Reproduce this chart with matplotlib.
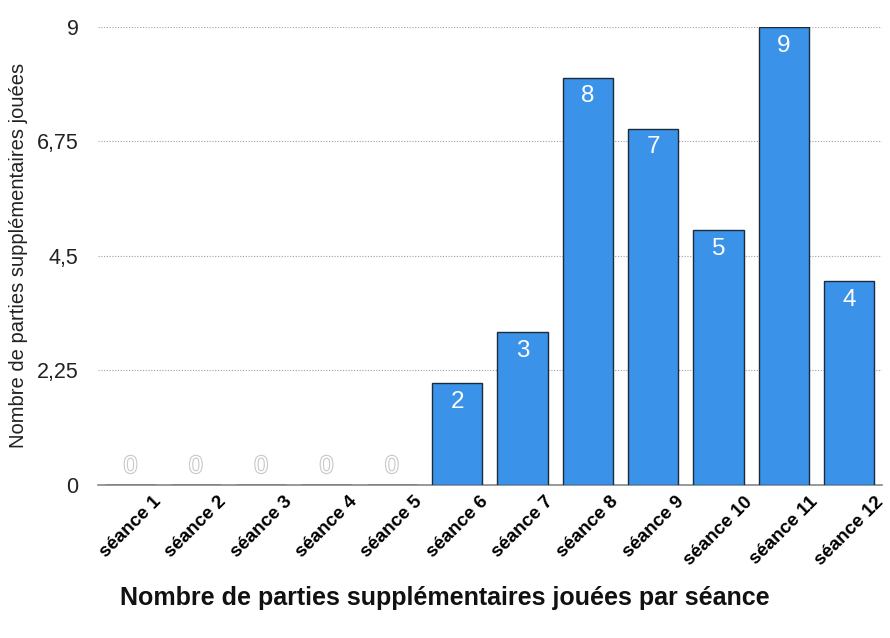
import matplotlib
matplotlib.use("Agg")
import matplotlib.pyplot as plt
import matplotlib.patheffects as pe
import matplotlib.transforms as mtrans

plt.rcParams['font.family'] = ['Liberation Sans', 'DejaVu Sans']

categories = ["séance 1", "séance 2", "séance 3", "séance 4", "séance 5", "séance 6",
              "séance 7", "séance 8", "séance 9", "séance 10", "séance 11", "séance 12"]
values = [0, 0, 0, 0, 0, 2, 3, 8, 7, 5, 9, 4]
yticks = [0, 2.25, 4.5, 6.75, 9]
ytick_labels = ["0", "2,25", "4,5", "6,75", "9"]

fig = plt.figure(figsize=(8.9, 6.38), dpi=100)
ax = fig.add_axes([0.110, 0.240, 0.881, 0.718])

x = list(range(len(categories)))
ax.bar(x, values, width=0.77, color="#3a93e8", edgecolor="#1c2a3c", linewidth=1.0, zorder=3)

ax.set_xlim(-0.5, len(categories) - 0.5)
ax.set_ylim(0, 9)
ax.set_yticks(yticks)
ax.set_yticklabels(ytick_labels, fontsize=15.5, color="#222222")
ax.set_xticks(x)
ax.set_xticklabels(categories, rotation=45, ha="center", fontsize=13.5, fontweight="bold")
ax.tick_params(axis="both", length=0)
ax.tick_params(axis="y", pad=14)
ax.tick_params(axis="x", pad=6)

for y in yticks[1:]:
    ax.axhline(y, color="#a0a0a0", linestyle=(0, (1, 1.5)), linewidth=0.8, zorder=1)

for s in ["top", "right", "left"]:
    ax.spines[s].set_visible(False)
ax.spines["bottom"].set_color("#888888")
ax.spines["bottom"].set_linewidth(1.2)

for xi, v in zip(x, values):
    if v == 0:
        off = mtrans.offset_copy(ax.transData, fig=fig, x=0, y=13, units="points")
        ax.text(xi, v, str(v), transform=off, ha="center", va="center", fontsize=17.5,
                color="white", zorder=4,
                path_effects=[pe.withStroke(linewidth=1.6, foreground="#c8c8c8")])
    else:
        off = mtrans.offset_copy(ax.transData, fig=fig, x=0, y=-13.5, units="points")
        ax.text(xi, v, str(v), transform=off, ha="center", va="center", fontsize=17.5,
                color="white", zorder=4)

fig.text(0.021, 0.60, "Nombre de parties supplémentaires jouées", rotation=90,
         ha="center", va="center", fontsize=14.5, color="#222222")
fig.text(0.5, 0.062, "Nombre de parties supplémentaires jouées par séance",
         ha="center", va="center", fontsize=18, fontweight="bold", color="#111111")

fig.savefig("out.png", dpi=100)
